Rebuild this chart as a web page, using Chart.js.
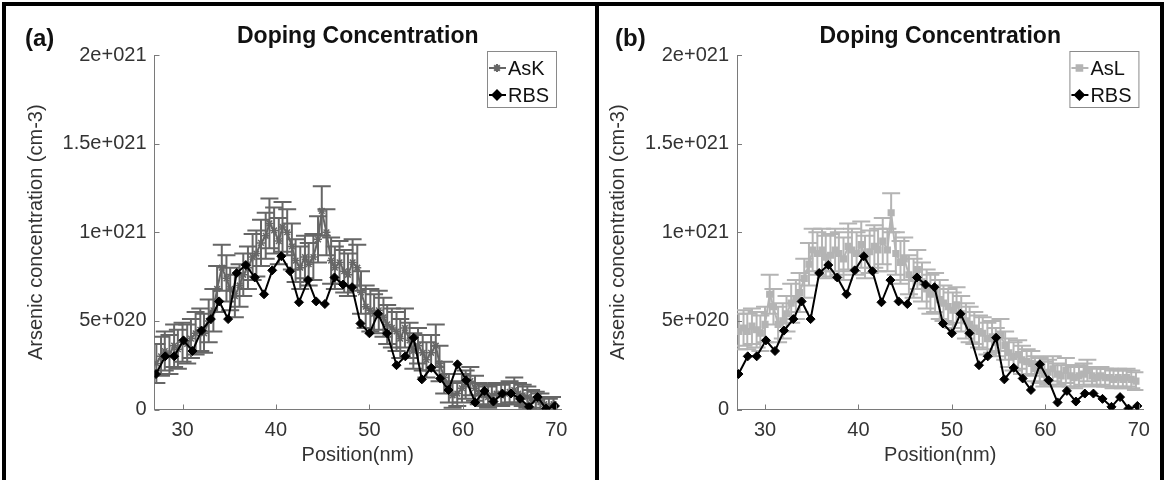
<!DOCTYPE html>
<html>
<head>
<meta charset="utf-8">
<script src="https://cdn.jsdelivr.net/npm/chart.js@4"></script>
<style>
  html, body { margin: 0; padding: 0; background: #fff; }
  #frame { position: absolute; left: 2px; top: 2px; width: 1162px; height: 500px; border: 4px solid #000; box-sizing: border-box; }
  #divider { position: absolute; left: 595px; top: 2px; width: 4px; height: 480px; background: #000; }
  canvas { position: absolute; }
  #chartA { left: 6px; top: 6px; }
  #chartB { left: 600px; top: 6px; }
</style>
</head>
<body>
<div id="frame"></div>
<div id="divider"></div>
<canvas id="chartA" width="590" height="472"></canvas>
<canvas id="chartB" width="559" height="472"></canvas>

<script>
// values in units of 1e20 cm-3
const xTicks = [30, 40, 50, 60, 70];
const yTickValues = [0, 5, 10, 15, 20];
const yTickLabels = ["0", "5e+020", "1e+021", "1.5e+021", "2e+021"];

// RBS profile (same in both panels)
const rbsX = [27.16, 28.15, 29.11, 30.1, 31.07, 32.03, 33.03, 33.92, 34.88, 35.8,
  36.77, 37.73, 38.72, 39.6, 40.57, 41.5, 42.46, 43.42, 44.3, 45.23,
  46.26, 47.18, 48.14, 49.04, 50.0, 50.92, 51.88, 52.9, 53.84, 54.73,
  55.61, 56.62, 57.58, 58.46, 59.42, 60.35, 61.31, 62.31, 63.27, 64.23,
  65.15, 66.12, 67.08, 68.0, 68.9, 69.85];
const rbsY = [2.0, 3.0, 3.0, 3.9, 3.3, 4.45, 5.1, 6.1, 5.1, 7.7,
  8.15, 7.45, 6.5, 7.85, 8.65, 7.8, 6.05, 7.3, 6.1, 5.95,
  7.45, 7.05, 6.9, 4.85, 4.3, 5.4, 4.3, 2.5, 3.0, 4.05,
  1.7, 2.35, 1.75, 1.1, 2.55, 1.65, 0.4, 1.05, 0.45, 0.9,
  0.9, 0.6, 0.15, 0.7, 0.05, 0.2];

// atom probe positions
const apX = [27.2, 27.7, 28.1, 28.6, 29.1, 29.5, 30.0, 30.5, 30.9, 31.4,
  31.9, 32.3, 32.8, 33.3, 33.7, 34.2, 34.7, 35.1, 35.6, 36.1,
  36.5, 37.0, 37.5, 37.9, 38.4, 38.9, 39.3, 39.8, 40.3, 40.7,
  41.2, 41.7, 42.1, 42.6, 43.1, 43.5, 44.0, 44.5, 44.9, 45.4,
  45.9, 46.3, 46.8, 47.3, 47.7, 48.2, 48.7, 49.1, 49.6, 50.1,
  50.5, 51.0, 51.5, 51.9, 52.4, 52.9, 53.3, 53.8, 54.3, 54.7,
  55.2, 55.7, 56.1, 56.6, 57.1, 57.5, 58.0, 58.5, 58.9, 59.4,
  59.9, 60.3, 60.8, 61.3, 61.7, 62.2, 62.7, 63.1, 63.6, 64.1,
  64.5, 65.0, 65.5, 65.9, 66.4, 66.9, 67.3, 67.8, 68.3, 68.7,
  69.2, 69.7];

const askY = [2.6, 3.0, 3.3, 3.1, 3.6, 3.4, 3.8, 3.7, 4.0, 4.3,
  4.5, 4.3, 5.0, 5.6, 6.8, 8.0, 7.4, 6.8, 6.4, 7.0,
  7.6, 8.0, 8.6, 8.8, 9.4, 9.8, 10.5, 10.1, 9.5, 10.3,
  10.0, 9.2, 8.4, 8.0, 8.6, 8.2, 8.6, 9.6, 11.2, 10.0,
  8.4, 8.0, 8.3, 7.8, 7.6, 8.3, 8.0, 6.6, 5.8, 5.6,
  5.4, 5.6, 5.2, 4.8, 4.6, 4.4, 4.0, 4.6, 3.9, 3.3,
  3.6, 3.2, 2.8, 3.2, 3.6, 2.6, 1.8, 1.2, 0.8, 0.9,
  1.2, 1.4, 1.6, 1.2, 0.9, 0.8, 0.7, 0.8, 0.9, 0.8,
  0.9, 1.0, 1.1, 0.9, 0.8, 0.7, 0.6, 0.5, 0.4, 0.3,
  0.2, 0.3];
const askErr = [1.1, 1.1, 1.1, 1.1, 1.2, 1.1, 1.1, 1.1, 1.1, 1.2,
  1.2, 1.1, 1.2, 1.2, 1.3, 1.3, 1.3, 1.2, 1.2, 1.2,
  1.2, 1.2, 1.3, 1.3, 1.3, 1.3, 1.4, 1.3, 1.3, 1.4,
  1.3, 1.3, 1.2, 1.2, 1.2, 1.2, 1.3, 1.3, 1.4, 1.3,
  1.3, 1.2, 1.2, 1.2, 1.2, 1.3, 1.3, 1.2, 1.2, 1.2,
  1.1, 1.1, 1.1, 1.1, 1.1, 1.1, 1.1, 1.1, 1.0, 1.0,
  1.0, 1.0, 1.0, 1.0, 1.2, 1.0, 0.9, 0.8, 0.7, 0.7,
  0.8, 0.8, 0.8, 0.7, 0.6, 0.6, 0.6, 0.6, 0.6, 0.6,
  0.6, 0.6, 0.7, 0.6, 0.6, 0.6, 0.5, 0.5, 0.5, 0.4,
  0.4, 0.4];

const aslY = [4.4, 4.6, 4.4, 4.7, 4.5, 4.3, 4.8, 6.5, 5.8, 4.8,
  5.0, 5.4, 6.0, 6.2, 6.6, 7.4, 8.2, 9.0, 8.8, 9.0,
  8.6, 8.7, 9.0, 8.8, 8.5, 9.2, 9.0, 8.8, 9.3, 8.6,
  8.9, 9.2, 9.0, 9.5, 9.0, 11.1, 8.8, 8.3, 8.5, 7.6,
  7.4, 7.9, 7.2, 6.8, 6.5, 6.6, 6.2, 6.0, 5.8, 5.6,
  5.9, 5.4, 5.0, 4.8, 4.6, 4.4, 4.3, 4.0, 4.1, 3.8,
  4.2, 3.6, 3.2, 3.0, 3.1, 2.8, 2.7, 2.6, 2.3, 2.2,
  2.0, 2.1, 2.3, 2.0, 1.9, 2.2, 1.9, 1.8, 1.9, 2.0,
  2.2, 1.9, 1.8, 1.9, 1.8, 1.8, 1.7, 1.8, 1.7, 1.8,
  1.7, 1.6];
const aslErr = [1.0, 1.0, 1.0, 1.0, 1.0, 1.0, 1.0, 1.1, 1.0, 1.0,
  1.0, 1.0, 1.1, 1.1, 1.1, 1.1, 1.2, 1.2, 1.2, 1.2,
  1.2, 1.2, 1.2, 1.2, 1.2, 1.3, 1.2, 1.2, 1.3, 1.2,
  1.2, 1.2, 1.2, 1.3, 1.2, 1.1, 1.2, 1.2, 1.2, 1.1,
  1.1, 1.1, 1.1, 1.1, 1.1, 1.1, 1.1, 1.0, 1.0, 1.0,
  1.0, 1.0, 1.0, 1.0, 0.9, 0.9, 0.9, 0.9, 0.9, 0.8,
  0.9, 0.8, 0.8, 0.8, 0.8, 0.8, 0.7, 0.7, 0.7, 0.7,
  0.7, 0.7, 0.7, 0.6, 0.6, 0.7, 0.6, 0.6, 0.6, 0.6,
  0.6, 0.5, 0.5, 0.5, 0.5, 0.5, 0.5, 0.5, 0.5, 0.5,
  0.5, 0.5];

const FONT = "'Liberation Sans', Arial, Helvetica, sans-serif";
Chart.defaults.font.family = FONT;
Chart.defaults.font.size = 20;

const pts = (xs, ys) => xs.map((x, i) => ({ x: x, y: ys[i] }));

// vertical error bars with caps, drawn under the markers
const errorBars = {
  id: "errorBars",
  beforeDatasetDraw(chart, args) {
    const ds = chart.data.datasets[args.index];
    if (!ds.errors) return;
    const { ctx, chartArea: a, scales: { x, y } } = chart;
    ctx.save();
    ctx.beginPath();
    ctx.rect(a.left, a.top - 10, a.right - a.left, a.bottom - a.top + 10);
    ctx.clip();
    ctx.strokeStyle = ds.borderColor;
    ctx.lineWidth = 2;
    ds.data.forEach((p, i) => {
      const px = x.getPixelForValue(p.x);
      const hi = y.getPixelForValue(p.y + ds.errors[i]);
      const lo = y.getPixelForValue(p.y - ds.errors[i]);
      ctx.beginPath();
      ctx.moveTo(px, hi); ctx.lineTo(px, lo);
      ctx.moveTo(px - 9, hi); ctx.lineTo(px + 9, hi);
      ctx.moveTo(px - 9, lo); ctx.lineTo(px + 9, lo);
      ctx.stroke();
    });
    ctx.restore();
  }
};

// matlab style ticks pointing into the axes
const innerTicks = {
  id: "innerTicks",
  afterDatasetsDraw(chart) {
    const { ctx, chartArea: a, scales: { x, y } } = chart;
    ctx.save();
    ctx.strokeStyle = "#7a7a7a";
    ctx.lineWidth = 1;
    ctx.beginPath();
    x.ticks.forEach(t => {
      const px = Math.round(x.getPixelForValue(t.value)) + 0.5;
      ctx.moveTo(px, a.bottom); ctx.lineTo(px, a.bottom - 5);
    });
    y.ticks.forEach(t => {
      const py = Math.round(y.getPixelForValue(t.value)) + 0.5;
      ctx.moveTo(a.left, py); ctx.lineTo(a.left + 5, py);
    });
    ctx.stroke();
    ctx.restore();
  }
};

// panel tag, title and boxed legend
const panelText = {
  id: "panelText",
  afterDraw(chart, args, opts) {
    const { ctx, chartArea: a } = chart;
    ctx.save();
    ctx.fillStyle = "#111";
    ctx.textBaseline = "middle";
    ctx.font = "bold 24px " + FONT;
    ctx.textAlign = "left";
    ctx.fillText(opts.tag, opts.tagX, 33);
    ctx.font = "bold 23px " + FONT;
    ctx.textAlign = "center";
    ctx.fillText(opts.title, (a.left + a.right) / 2, 31);

    const bw = 69, bh = 56;
    const bx = a.right - 5 - bw, by = a.top - 4;
    ctx.fillStyle = "#fff";
    ctx.fillRect(bx, by, bw, bh);
    ctx.strokeStyle = "#8a8a8a";
    ctx.lineWidth = 1;
    ctx.strokeRect(bx + 0.5, by + 0.5, bw, bh);
    chart.data.datasets.forEach((ds, i) => {
      const ly = by + 17 + i * 27;
      ctx.strokeStyle = ds.borderColor;
      ctx.lineWidth = ds.borderWidth;
      ctx.beginPath();
      ctx.moveTo(bx + 2, ly); ctx.lineTo(bx + 19, ly);
      ctx.stroke();
      ctx.fillStyle = ds.pointBackgroundColor;
      Chart.helpers.drawPoint(ctx, {
        pointStyle: ds.pointStyle, radius: ds.pointRadius, borderWidth: 1.5
      }, bx + 10, ly);
      ctx.fillStyle = "#111";
      ctx.font = "20px " + FONT;
      ctx.textAlign = "left";
      ctx.fillText(ds.label, bx + 21, ly + 1);
    });
    ctx.restore();
  }
};

function makePanel(id, cfg) {
  const rbs = {
    label: "RBS", data: pts(rbsX, rbsY), order: 1,
    borderColor: "#000", backgroundColor: "#000", borderWidth: 2,
    pointStyle: "rectRot", pointRadius: 4.5,
    pointBackgroundColor: "#000", pointBorderColor: "#000", pointBorderWidth: 1
  };
  const ap = {
    label: cfg.label, data: pts(apX, cfg.y), errors: cfg.err, order: 2,
    borderColor: cfg.color, backgroundColor: cfg.color, borderWidth: 2,
    pointStyle: cfg.marker, pointRadius: 4,
    pointBackgroundColor: cfg.color, pointBorderColor: cfg.color, pointBorderWidth: 1.5
  };
  return new Chart(document.getElementById(id), {
    type: "line",
    data: { datasets: [ap, rbs] },
    options: {
      responsive: false,
      animation: false,
      layout: { padding: { top: 49, right: cfg.padRight, left: 0, bottom: 0 } },
      plugins: {
        legend: { display: false },
        tooltip: { enabled: false },
        panelText: { tag: cfg.tag, tagX: cfg.tagX, title: "Doping Concentration" }
      },
      scales: {
        x: {
          type: "linear", min: 27, max: 70.5,
          afterBuildTicks: s => { s.ticks = xTicks.map(v => ({ value: v })); },
          afterFit: s => { s.height = 68.5; },
          grid: { display: false, drawTicks: false },
          border: { display: true, color: "#7a7a7a", width: 1 },
          ticks: { color: "#333", padding: 9, font: { size: 20 } },
          title: { display: true, text: "Position(nm)", color: "#333",
                   font: { size: 20 }, padding: { top: 0, bottom: 11 } }
        },
        y: {
          type: "linear", min: 0, max: 20,
          afterBuildTicks: s => { s.ticks = yTickValues.map(v => ({ value: v })); },
          afterFit: s => { s.width = cfg.yWidth; },
          grid: { display: false, drawTicks: false },
          border: { display: true, color: "#7a7a7a", width: 1 },
          ticks: { color: "#333", padding: 8, font: { size: 20 },
                   callback: (v, i) => yTickLabels[i] },
          title: { display: true, text: "Arsenic concentration (cm-3)", color: "#333",
                   font: { size: 20 }, padding: { top: cfg.titlePad, bottom: 0 } }
        }
      }
    },
    plugins: [errorBars, innerTicks, panelText]
  });
}

makePanel("chartA", {
  tag: "(a)", tagX: 19, label: "AsK", y: askY, err: askErr,
  color: "#666666", marker: "star", padRight: 35, yWidth: 148.5, titlePad: 18
});
makePanel("chartB", {
  tag: "(b)", tagX: 15, label: "AsL", y: aslY, err: aslErr,
  color: "#b4b4b4", marker: "rect", padRight: 11, yWidth: 137, titlePad: 6
});
</script>
</body>
</html>
